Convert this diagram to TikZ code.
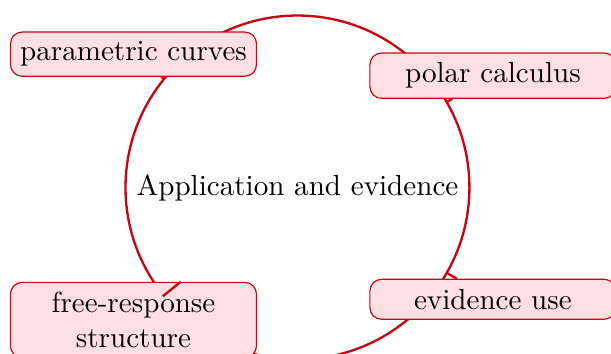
\documentclass[tikz,border=0pt]{standalone}
\usepackage{xcolor}
\usepackage{tikz}
\usetikzlibrary{arrows.meta,positioning,calc}
\definecolor{hubred}{RGB}{200, 4, 16}
\definecolor{softpink}{RGB}{255, 224, 226}

\tikzset{
  topicbox/.style={draw=hubred, fill=softpink, rounded corners=4pt, inner xsep=3pt, text width=2.76cm, align=center},
  hubring/.style={circle, draw=hubred, thick},
  hublink/.style={draw=hubred, thick}
}

\begin{document}
\begin{tikzpicture}
  \useasboundingbox (-3.592,-2.010) rectangle (3.786,2.264);
  \node[hubring] (hub) at (0,0) {Application and evidence};
  \node[topicbox] (param) at (-1.98,1.61) {parametric curves};
  \node[topicbox] (polar) at (2.36,1.35) {polar calculus};
  \node[topicbox] (evid) at (2.36,-1.35) {evidence use};
  \node[topicbox] (frq) at (-1.98,-1.60) {free-response structure};
  \draw[hublink] (hub) -- (param);
  \draw[hublink] (hub) -- (polar);
  \draw[hublink] (hub) -- (evid);
  \draw[hublink] (hub) -- (frq);
\end{tikzpicture}
\end{document}
